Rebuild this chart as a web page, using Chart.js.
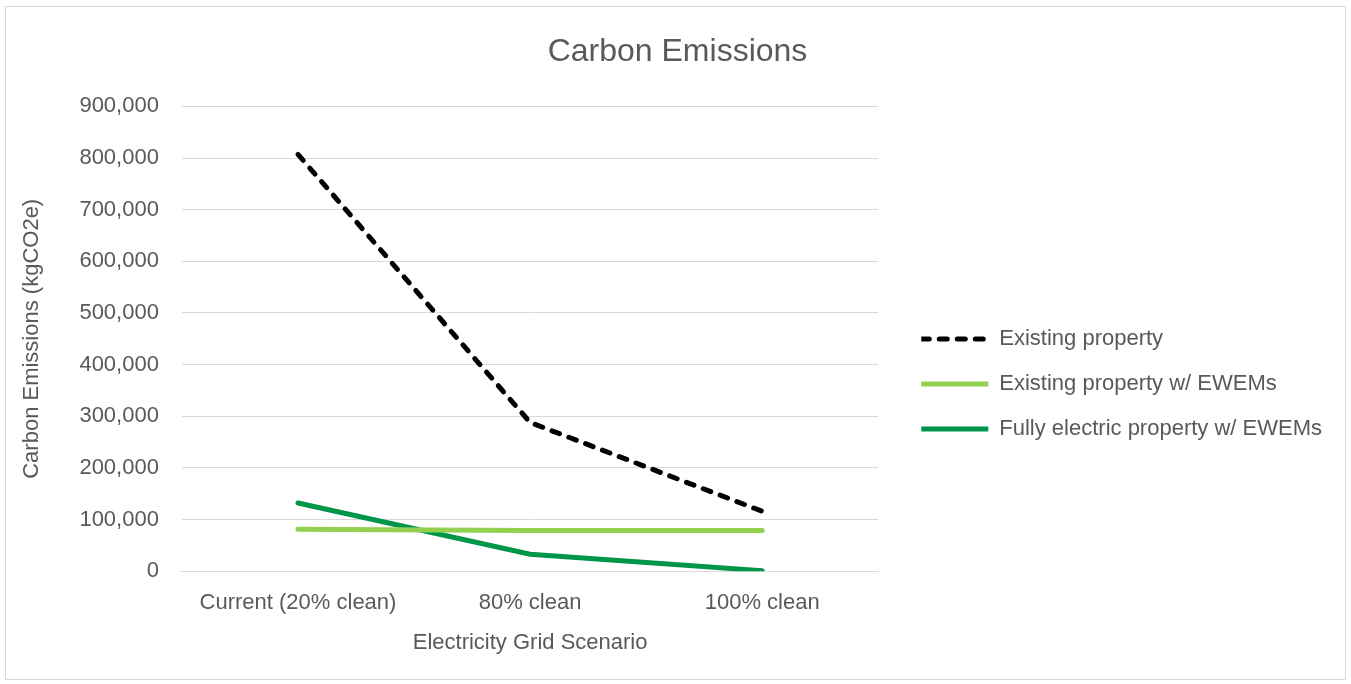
<!DOCTYPE html>
<html>
<head>
<meta charset="utf-8">
<script src="https://cdn.jsdelivr.net/npm/chart.js@4"></script>
<style>
  body { margin: 0; background: #fff; }
  #cadre { position: absolute; left: 5px; top: 6px; width: 1341px; height: 674px; border: 1px solid #d9d9d9; box-sizing: border-box; }
  #zone { position: absolute; left: 0; top: 0; width: 1351px; height: 684px; }
</style>
</head>
<body>
<div id="cadre"></div>
<div id="zone"><canvas id="graphique"></canvas></div>
<script>
const scenarios = ['Current (20% clean)', '80% clean', '100% clean'];
const existant = [807000, 288000, 116000];
const existantEwem = [81000, 79000, 79000];
const electriqueEwem = [132000, 33000, 1000];

const POLICE = "'Liberation Sans', sans-serif";
const GRIS = '#595959';
// tirets : 8 trait + 10 vide, la case de légende (67 px) retombe sur les mêmes tirets à l'aller et au retour
const TIRETS = [8, 10];

new Chart(document.getElementById('graphique'), {
    type: 'line',
    data: {
        labels: scenarios,
        datasets: [
            {
                label: 'Existing property',
                data: existant,
                borderColor: '#000000',
                backgroundColor: '#000000',
                borderWidth: 5,
                borderDash: TIRETS,
                borderCapStyle: 'round',
                pointRadius: 0,
                tension: 0
            },
            {
                label: 'Existing property w/ EWEMs',
                data: existantEwem,
                borderColor: '#92d050',
                backgroundColor: '#92d050',
                borderWidth: 5,
                borderCapStyle: 'round',
                pointRadius: 0,
                tension: 0
            },
            {
                label: 'Fully electric property w/ EWEMs',
                data: electriqueEwem,
                borderColor: '#00964a',
                backgroundColor: '#00964a',
                borderWidth: 5,
                borderCapStyle: 'round',
                pointRadius: 0,
                tension: 0
            }
        ]
    },
    options: {
        responsive: true,
        maintainAspectRatio: false,
        animation: false,
        layout: { padding: { left: 23, right: 19, top: 10, bottom: 28 } },
        scales: {
            x: {
                offset: true,
                grid: { display: false, drawTicks: false },
                border: { color: '#d9d9d9', width: 1 },
                ticks: { color: GRIS, font: { family: POLICE, size: 22 }, padding: 19 },
                title: { display: true, text: 'Electricity Grid Scenario', color: GRIS, font: { family: POLICE, size: 22 }, padding: { top: -6, bottom: 0 } }
            },
            y: {
                min: 0,
                max: 900000,
                ticks: {
                    stepSize: 100000,
                    color: GRIS,
                    font: { family: POLICE, size: 22 },
                    padding: 23,
                    callback: v => v.toLocaleString('en-US')
                },
                grid: { color: '#d9d9d9', lineWidth: 1, drawTicks: false },
                border: { display: false },
                title: { display: true, text: 'Carbon Emissions (kgCO2e)', color: GRIS, font: { family: POLICE, size: 22 }, padding: { top: -4, bottom: 11 } }
            },
            marge: {
                type: 'linear',
                position: 'right',
                grid: { display: false },
                ticks: { display: false },
                border: { display: false },
                afterFit: s => { s.width = 20; }
            }
        },
        plugins: {
            title: {
                display: true,
                text: 'Carbon Emissions',
                color: GRIS,
                font: { family: POLICE, size: 32, weight: 'normal' },
                padding: { top: 23, bottom: 35 }
            },
            legend: {
                position: 'right',
                fullSize: false,
                maxWidth: 520,
                title: { display: true, text: ' ', font: { family: POLICE, size: 22 }, padding: { top: 0, bottom: 64 } },
                labels: {
                    boxWidth: 67,
                    boxHeight: 0,
                    padding: 23,
                    color: GRIS,
                    font: { family: POLICE, size: 22 }
                }
            },
            tooltip: { enabled: false }
        }
    }
});
</script>
</body>
</html>
